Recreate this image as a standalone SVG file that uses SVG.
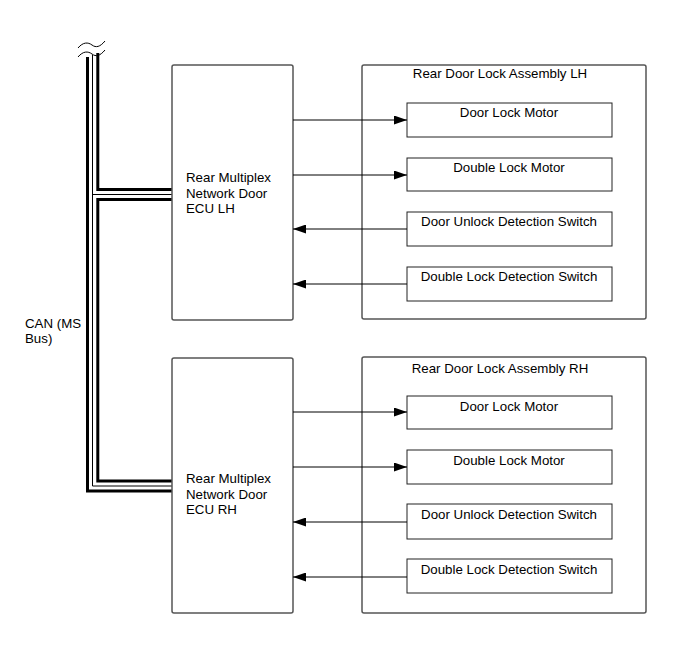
<svg xmlns="http://www.w3.org/2000/svg" width="690" height="659" viewBox="0 0 690 659">
<defs>
<marker id="arr" viewBox="0 0 13 9" refX="13" refY="4.5" markerWidth="13" markerHeight="9" markerUnits="userSpaceOnUse" orient="auto">
<path d="M0,0 L13,4.5 L0,9 Z" fill="#000"/>
</marker>
<style>
text{font-family:"Liberation Sans",Arial,sans-serif;font-size:13.3px;fill:#000}
.ecu{fill:#fff;stroke:#555;stroke-width:1.5}
.asm{fill:none;stroke:#555;stroke-width:1.5}
.part{fill:#fff;stroke:#222;stroke-width:1}
.conn{stroke:#000;stroke-width:1;fill:none}
.thick{stroke:#000;stroke-width:3;fill:none;stroke-linejoin:miter}
.thin{stroke:#000;stroke-width:1;fill:none}
.mid{text-anchor:middle}
</style>
</defs>
<rect width="690" height="659" fill="#fff"/>

<g id="bus">
<path class="thick" d="M87.5,57 V491 H172"/>
<path class="thin" d="M92.5,55 V486 H172 M92.5,194.5 H172"/>
<path class="thick" d="M97.8,53 V189.5 H172 M172,199.5 H97.8 V481 H172"/>
<path class="thin" d="M78,48 C83,42 88,42 92,45 C96,48 100,47 105,41"/>
<path class="thin" d="M78,57 C83,51 88,51 92,54 C96,57 100,56 105,50"/>
<text x="25" y="328">CAN (MS</text>
<text x="25" y="343">Bus)</text>
</g>

<g id="ecu-lh">
<rect class="ecu" x="172" y="65" width="121" height="255" rx="2"/>
<text x="186" y="182">Rear Multiplex</text>
<text x="186" y="198">Network Door</text>
<text x="186" y="213">ECU LH</text>
</g>

<g id="asm-lh">
<rect class="asm" x="362" y="65" width="284" height="254" rx="2"/>
<text class="mid" x="500" y="78">Rear Door Lock Assembly LH</text>
</g>
<g id="lh-door-lock-motor">
<rect class="part" x="407" y="103" width="205" height="34"/>
<text class="mid" x="509" y="117">Door Lock Motor</text>
</g>
<g id="lh-double-lock-motor">
<rect class="part" x="407" y="158" width="205" height="33"/>
<text class="mid" x="509" y="172">Double Lock Motor</text>
</g>
<g id="lh-door-unlock-switch">
<rect class="part" x="407" y="212" width="205" height="34"/>
<text class="mid" x="509" y="226">Door Unlock Detection Switch</text>
</g>
<g id="lh-double-lock-switch">
<rect class="part" x="407" y="267" width="205" height="34"/>
<text class="mid" x="509" y="281">Double Lock Detection Switch</text>
</g>

<g id="ecu-rh">
<rect class="ecu" x="172" y="358" width="121" height="255" rx="2"/>
<text x="186" y="483">Rear Multiplex</text>
<text x="186" y="499">Network Door</text>
<text x="186" y="514">ECU RH</text>
</g>

<g id="asm-rh">
<rect class="asm" x="362" y="357" width="284" height="256" rx="2"/>
<text class="mid" x="500" y="373">Rear Door Lock Assembly RH</text>
</g>
<g id="rh-door-lock-motor">
<rect class="part" x="407" y="396" width="205" height="33"/>
<text class="mid" x="509" y="411">Door Lock Motor</text>
</g>
<g id="rh-double-lock-motor">
<rect class="part" x="407" y="450" width="205" height="34"/>
<text class="mid" x="509" y="465">Double Lock Motor</text>
</g>
<g id="rh-door-unlock-switch">
<rect class="part" x="407" y="504" width="205" height="35"/>
<text class="mid" x="509" y="519">Door Unlock Detection Switch</text>
</g>
<g id="rh-double-lock-switch">
<rect class="part" x="407" y="559" width="205" height="34"/>
<text class="mid" x="509" y="574">Double Lock Detection Switch</text>
</g>

<g id="connectors">
<line class="conn" x1="293" y1="120" x2="407" y2="120" marker-end="url(#arr)"/>
<line class="conn" x1="293" y1="175" x2="407" y2="175" marker-end="url(#arr)"/>
<line class="conn" x1="407" y1="229" x2="293" y2="229" marker-end="url(#arr)"/>
<line class="conn" x1="407" y1="284" x2="293" y2="284" marker-end="url(#arr)"/>
<line class="conn" x1="293" y1="412" x2="407" y2="412" marker-end="url(#arr)"/>
<line class="conn" x1="293" y1="467" x2="407" y2="467" marker-end="url(#arr)"/>
<line class="conn" x1="407" y1="522" x2="293" y2="522" marker-end="url(#arr)"/>
<line class="conn" x1="407" y1="577" x2="293" y2="577" marker-end="url(#arr)"/>
</g>
</svg>
